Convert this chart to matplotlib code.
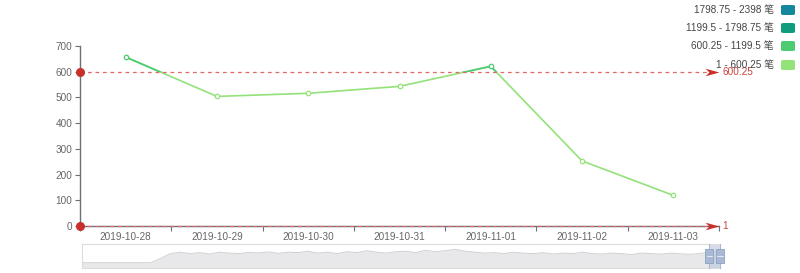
import numpy as np
import matplotlib
matplotlib.use("Agg")
import matplotlib.pyplot as plt
from matplotlib.patches import Rectangle, FancyBboxPatch
from matplotlib.path import Path

plt.rcParams['font.family'] = ['Liberation Sans', 'Noto Sans CJK SC', 'DejaVu Sans']

dates = ["2019-10-28", "2019-10-29", "2019-10-30", "2019-10-31",
         "2019-11-01", "2019-11-02", "2019-11-03"]
values = [657, 504, 516, 543, 621, 253, 119]

mark_lines = [600.25, 1]
piece_labels = ["1798.75 - 2398 笔", "1199.5 - 1798.75 笔",
                "600.25 - 1199.5 笔", "1 - 600.25 笔"]
piece_colors = ["#14869e", "#0e9c7d", "#4ccb72", "#93e27a"]

# dataZoom shadow (relative height of the full series)
shadow = [0.22, 0.22, 0.22, 0.22, 0.22, 0.22, 0.22, 0.22,
          0.40, 0.60, 0.66, 0.60, 0.64, 0.58, 0.66, 0.62, 0.60, 0.65, 0.63, 0.67,
          0.61, 0.66, 0.64, 0.70, 0.62, 0.66, 0.60, 0.68, 0.64, 0.72, 0.66, 0.62,
          0.68, 0.70, 0.64, 0.74, 0.68, 0.72, 0.78, 0.70, 0.66, 0.62, 0.64, 0.60,
          0.66, 0.62, 0.60, 0.64, 0.58, 0.62, 0.60, 0.66, 0.60, 0.58, 0.62, 0.60,
          0.56, 0.62, 0.60, 0.58, 0.62, 0.59, 0.57, 0.61, 0.66, 0.72]

W, H = 800, 273
fig = plt.figure(figsize=(W / 100, H / 100), dpi=100)
ax = fig.add_axes([80 / W, (H - 226) / H, 639 / W, 180 / H])

x = np.arange(len(dates))
grey = "#666666"
axis_col = "#6e7079"

# line: light below threshold, darker above
ax.plot(x, values, color=piece_colors[3], lw=1.2, zorder=3)
dark, = ax.plot(x, values, color=piece_colors[2], lw=1.2, zorder=4)
dark.set_clip_path(Rectangle((-1, mark_lines[0]), 10, 2000, transform=ax.transData))
for xi, v in zip(x, values):
    c = piece_colors[2] if v > mark_lines[0] else piece_colors[3]
    ax.plot(xi, v, 'o', ms=3.2, mfc='white', mec=c, mew=0.9, zorder=5)

# mark lines
red = "#d0403c"
arrow = Path([(-1, -0.55), (1, 0), (-1, 0.55), (-0.45, 0), (-1, -0.55)],
             [Path.MOVETO, Path.LINETO, Path.LINETO, Path.LINETO, Path.CLOSEPOLY])
for m in mark_lines:
    ax.plot([-0.5, 6.45], [m, m], color="#e06a66", lw=0.9, ls=(0, (3, 3)), zorder=6, clip_on=False)
    ax.plot(-0.5, m, 'o', ms=5.5, color="#c9302c", zorder=7, clip_on=False)
    ax.plot(6.42, m, marker=arrow, ms=10, color="#c9302c", mew=0, zorder=7, clip_on=False)
    ax.text(6.54, m, f"{m:g}", color=red, fontsize=7.2, va='center', ha='left', zorder=7)

ax.set_xlim(-0.5, 6.5)
ax.set_ylim(0, 700)
ax.set_yticks(range(0, 701, 100))
ax.set_xticks(x)
ax.set_xticklabels(dates)
ax.set_xticks(np.arange(-0.5, 6.6, 1), minor=True)
ax.tick_params(axis='x', which='major', length=0, pad=4, labelsize=7.2, labelcolor=grey)
ax.tick_params(axis='x', which='minor', length=3.5, color=axis_col, width=0.8)
ax.tick_params(axis='y', length=3.5, color=axis_col, width=0.8, pad=2, labelsize=7.2, labelcolor=grey)
for s in ['top', 'right']:
    ax.spines[s].set_visible(False)
ax.spines['left'].set_color(axis_col)
ax.spines['bottom'].set_color(axis_col)
ax.spines['left'].set_linewidth(1.0)
ax.spines['bottom'].set_linewidth(1.0)

# legend (visualMap pieces)
ys = [10, 28, 46, 65]
for lab, col, yp in zip(piece_labels, piece_colors, ys):
    fig.patches.append(FancyBboxPatch(((781) / W, (H - yp - 5) / H), 14 / W, 10 / H,
                                      boxstyle="round,pad=0,rounding_size=0.004",
                                      transform=fig.transFigure, fc=col, ec='none'))
    fig.text(774 / W, (H - yp) / H, lab, ha='right', va='center', fontsize=7.2, color="#444444")

# dataZoom slider
sl = fig.add_axes([82 / W, (H - 268) / H, 638 / W, 24 / H])
sx = np.linspace(0, 1, len(shadow))
sl.fill_between(sx, 0, shadow, color="#e8e8ea", lw=0)
sl.plot(sx, shadow, color="#cfd0d4", lw=0.7)
sl.set_xlim(0, 1)
sl.set_ylim(0, 1)
sl.set_xticks([])
sl.set_yticks([])
for s in sl.spines.values():
    s.set_color("#dcdcdc")
    s.set_linewidth(0.8)
sl.axvspan(0.983, 1.0, color="#b9c6dc", alpha=0.6, lw=0)
for hx in [0.983, 1.0]:
    sl.add_patch(Rectangle((hx - 0.006, 0.22), 0.012, 0.56, fc="#a9b8d4", ec="#8fa2c4", lw=0.6,
                           clip_on=False, zorder=5))
    sl.plot([hx - 0.004, hx + 0.004], [0.5, 0.5], color="#ffffff", lw=0.5, zorder=6, clip_on=False)
    sl.plot([hx, hx], [0, 1], color="#a9b8d4", lw=0.8, zorder=4, clip_on=False)

fig.savefig("out.png", dpi=100)
